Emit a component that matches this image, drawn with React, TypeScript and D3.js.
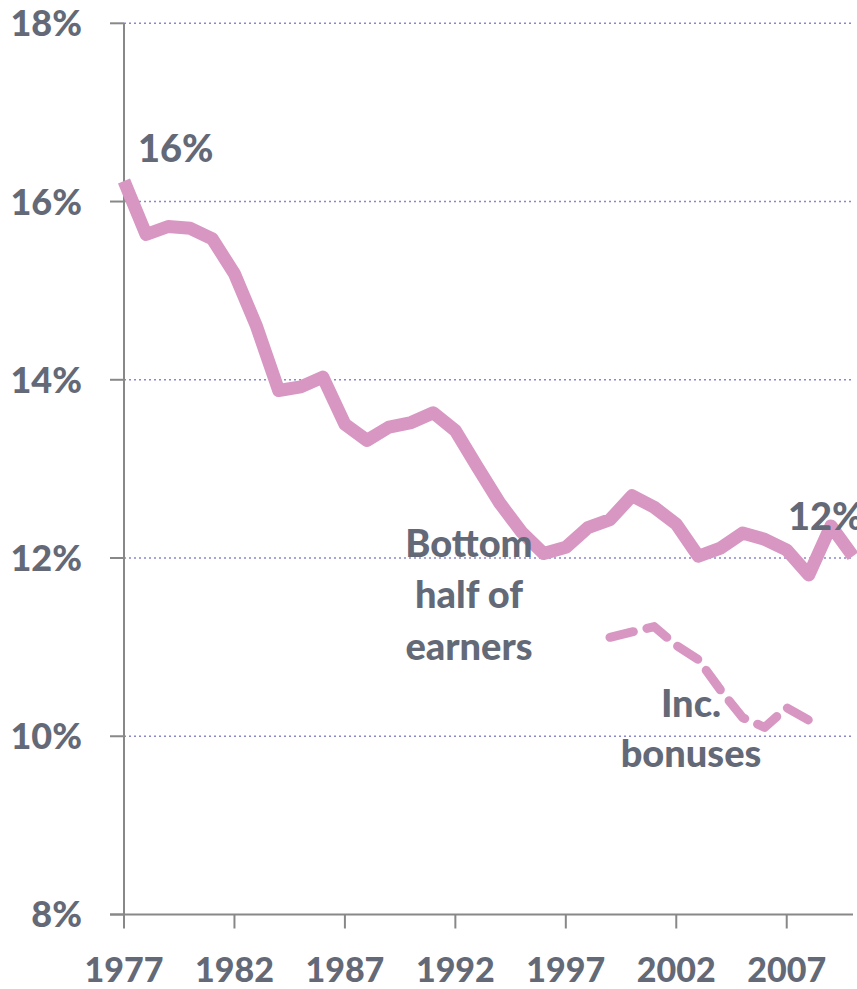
import * as d3 from "d3";

const years = d3.range(1977, 2011);
const bottomHalf = [
  16.23, 15.63, 15.72, 15.7, 15.58, 15.19, 14.6, 13.88, 13.92, 14.03, 13.5,
  13.32, 13.47, 13.52, 13.63, 13.43, 13.02, 12.62, 12.29, 12.05, 12.12, 12.34,
  12.43, 12.7, 12.57, 12.38, 12.02, 12.11, 12.28, 12.21, 12.09, 11.81, 12.36,
  12.02,
];
const bonusYears = d3.range(1999, 2009);
const incBonuses = [11.11, 11.17, 11.23, 11.02, 10.86, 10.52, 10.21, 10.1, 10.32, 10.18];
const yTicks = [8, 10, 12, 14, 16, 18];
const xTicks = [1977, 1982, 1987, 1992, 1997, 2002, 2007];

const width = 857;
const height = 989;
const textColor = "#636976";
const lineColor = "#D897C2";
const font = "Lato, 'Open Sans', sans-serif";

export default function App() {
  const x = d3.scaleLinear().domain([1977, 2010]).range([124, 853]);
  const y = d3.scaleLinear().domain([8, 18]).range([914.5, 23.3]);
  const line = d3
    .line<number>()
    .x((_, i) => x(years[i]))
    .y(d => y(d));
  const dashed = d3
    .line<number>()
    .x((_, i) => x(bonusYears[i]))
    .y(d => y(d));

  return (
    <div style={{ position: "absolute", left: 0, top: 0 }}>
      <svg width={width} height={height} style={{ display: "block" }}>
        {yTicks
          .filter(t => t > 8)
          .map(t => (
            <line
              key={t}
              x1={x(1977)}
              x2={x(2010)}
              y1={y(t)}
              y2={y(t)}
              stroke="#8888CC"
              strokeWidth={1.6}
              strokeDasharray="2 3"
            />
          ))}
        <line x1={x(1977)} x2={x(1977)} y1={y(18)} y2={y(8)} stroke="#888" strokeWidth={2} />
        <line x1={x(1977) - 14} x2={x(2010)} y1={y(8)} y2={y(8)} stroke="#888" strokeWidth={2} />
        {yTicks.map(t => (
          <g key={t}>
            <line x1={x(1977) - 14} x2={x(1977)} y1={y(t)} y2={y(t)} stroke="#888" strokeWidth={2} />
            <text
              x={82}
              y={y(t)}
              dy="0.36em"
              textAnchor="end"
              fill={textColor}
              fontFamily={font}
              fontWeight="900"
              fontSize={36}
            >
              {t}%
            </text>
          </g>
        ))}
        {xTicks.map(t => (
          <g key={t}>
            <line x1={x(t)} x2={x(t)} y1={y(8)} y2={y(8) + 14} stroke="#888" strokeWidth={2} />
            <text
              x={x(t)}
              y={982}
              textAnchor="middle"
              fill={textColor}
              fontFamily={font}
              fontWeight="900"
              fontSize={34}
            >
              {t}
            </text>
          </g>
        ))}
        <path
          d={dashed(incBonuses) ?? undefined}
          fill="none"
          stroke={lineColor}
          strokeWidth={9}
          strokeLinecap="round"
          strokeLinejoin="round"
          strokeDasharray="24 14"
        />
        <path
          d={line(bottomHalf) ?? undefined}
          fill="none"
          stroke={lineColor}
          strokeWidth={13}
          strokeLinejoin="round"
        />
        <g fill={textColor} fontFamily={font} fontWeight="900" fontSize={38}>
          <text x={138} y={162}>16%</text>
          <text x={788} y={530}>12%</text>
          <text x={469} y={557} textAnchor="middle">Bottom</text>
          <text x={469} y={608} textAnchor="middle">half of</text>
          <text x={469} y={660} textAnchor="middle">earners</text>
          <text x={691} y={717} textAnchor="middle">Inc.</text>
          <text x={691} y={767} textAnchor="middle">bonuses</text>
        </g>
      </svg>
    </div>
  );
}
